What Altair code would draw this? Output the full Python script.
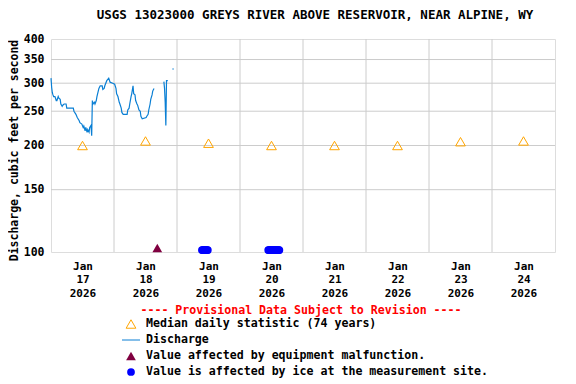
import altair as alt
import pandas as pd

TITLE = "USGS 13023000 GREYS RIVER ABOVE RESERVOIR, NEAR ALPINE, WY"
Y_TITLE = "Discharge, cubic feet per second"
HEADER = "---- Provisional Data Subject to Revision ----"
LEGEND_LABELS = [
    "Median daily statistic (74 years)",
    "Discharge",
    "Value affected by equipment malfunction.",
    "Value is affected by ice at the measurement site.",
]

# Discharge readings (cfs); segment 2 follows a data gap
q1_times = [
    "2026-01-17 00:00", "2026-01-17 00:15", "2026-01-17 00:30", "2026-01-17 00:45",
    "2026-01-17 01:00", "2026-01-17 01:30", "2026-01-17 02:00", "2026-01-17 02:15",
    "2026-01-17 02:45", "2026-01-17 03:00", "2026-01-17 03:30", "2026-01-17 03:45",
    "2026-01-17 04:15", "2026-01-17 04:30", "2026-01-17 05:00", "2026-01-17 05:45",
    "2026-01-17 06:00", "2026-01-17 08:30", "2026-01-17 08:45", "2026-01-17 09:30",
    "2026-01-17 10:00", "2026-01-17 10:45", "2026-01-17 11:00", "2026-01-17 11:45",
    "2026-01-17 12:15", "2026-01-17 12:30", "2026-01-17 13:00", "2026-01-17 13:15",
    "2026-01-17 13:45", "2026-01-17 14:00", "2026-01-17 14:30", "2026-01-17 14:45",
    "2026-01-17 15:15", "2026-01-17 15:30", "2026-01-17 15:45", "2026-01-17 16:00",
    "2026-01-17 16:30", "2026-01-17 16:45", "2026-01-17 17:15", "2026-01-17 17:30",
    "2026-01-17 18:00", "2026-01-17 18:15", "2026-01-17 18:45", "2026-01-17 19:30",
    "2026-01-17 19:45", "2026-01-17 20:15", "2026-01-17 20:30", "2026-01-17 21:15",
    "2026-01-17 22:00", "2026-01-17 22:30", "2026-01-17 23:30",
    "2026-01-18 00:15", "2026-01-18 00:45", "2026-01-18 01:00", "2026-01-18 01:30",
    "2026-01-18 02:00", "2026-01-18 02:15", "2026-01-18 02:45", "2026-01-18 03:00",
    "2026-01-18 03:30", "2026-01-18 05:00", "2026-01-18 05:15", "2026-01-18 05:45",
    "2026-01-18 06:00", "2026-01-18 06:30", "2026-01-18 06:45", "2026-01-18 07:15",
    "2026-01-18 07:30", "2026-01-18 08:00", "2026-01-18 08:15", "2026-01-18 08:45",
    "2026-01-18 09:00", "2026-01-18 09:30", "2026-01-18 10:00", "2026-01-18 10:15",
    "2026-01-18 10:45", "2026-01-18 12:15", "2026-01-18 12:30", "2026-01-18 13:00",
    "2026-01-18 13:15", "2026-01-18 13:45", "2026-01-18 14:00", "2026-01-18 14:30",
    "2026-01-18 14:45", "2026-01-18 15:15",
]
q1_values = [
    310, 292, 282, 278,
    275, 275, 268, 268,
    275, 272, 270, 262,
    258, 260, 262, 262,
    255, 255, 250, 245,
    240, 235, 232, 230,
    225, 227, 220, 225,
    218, 222, 218, 225,
    228, 213, 268, 262,
    265, 262, 268, 275,
    285, 290, 295, 295,
    288, 290, 295, 305,
    310, 302, 300,
    298, 290, 280, 275,
    265, 262, 255, 248,
    245, 245, 252, 255,
    262, 275, 280, 295,
    280, 278, 268, 262,
    260, 252, 250, 242,
    238, 240, 242, 245,
    252, 262, 270, 278,
    285, 290,
]
q2_times = [
    "2026-01-18 19:00", "2026-01-18 19:15", "2026-01-18 19:30", "2026-01-18 19:45",
    "2026-01-18 20:00", "2026-01-18 20:30",
]
q2_values = [303, 290, 265, 228, 305, 305]
q3_times = ["2026-01-18 22:30"]
q3_values = [329]

# Median daily statistic (74 years)
median_times = [
    "2026-01-17 12:00", "2026-01-18 12:00", "2026-01-19 12:00", "2026-01-20 12:00",
    "2026-01-21 12:00", "2026-01-22 12:00", "2026-01-23 12:00", "2026-01-24 12:00",
]
median_values = [200, 206, 203, 200, 200, 200, 205, 206]

# Equipment malfunction flag
equip_times = ["2026-01-18 16:30"]
equip_values = [100]

# Ice-affected flags
ice_times = [
    "2026-01-19 09:30", "2026-01-19 09:45", "2026-01-19 10:00", "2026-01-19 10:15",
    "2026-01-19 10:30", "2026-01-19 10:45", "2026-01-19 11:00", "2026-01-19 11:15",
    "2026-01-19 11:30", "2026-01-19 11:45",
    "2026-01-20 10:45", "2026-01-20 11:00", "2026-01-20 11:15", "2026-01-20 11:30",
    "2026-01-20 11:45", "2026-01-20 12:00", "2026-01-20 12:15", "2026-01-20 12:30",
    "2026-01-20 12:45", "2026-01-20 13:00", "2026-01-20 13:15", "2026-01-20 13:30",
    "2026-01-20 13:45", "2026-01-20 14:00", "2026-01-20 14:15", "2026-01-20 14:30",
    "2026-01-20 14:45", "2026-01-20 15:00",
]
ice_values = [100] * len(ice_times)

# Grid lines
grid_days = [
    "2026-01-18 00:00", "2026-01-19 00:00", "2026-01-20 00:00", "2026-01-21 00:00",
    "2026-01-22 00:00", "2026-01-23 00:00", "2026-01-24 00:00",
]
grid_values = [150, 200, 250, 300, 350]
y_ticks = [100, 150, 200, 250, 300, 350, 400]

FONT = "DejaVu Sans Mono"
LINE_BLUE = "#0a7fd4"
ORANGE = "#ffa500"
MAROON = "#800040"
ICE_BLUE = "#0000ff"
GRID = "#cccccc"

q_df = pd.DataFrame({
    "t": q1_times + q2_times,
    "q": q1_values + q2_values,
    "seg": [1] * len(q1_times) + [2] * len(q2_times),
})
q3_df = pd.DataFrame({"t": q3_times, "q": q3_values})
med_df = pd.DataFrame({"t": median_times, "q": median_values})
eq_df = pd.DataFrame({"t": equip_times, "q": equip_values})
ice_df = pd.DataFrame({"t": ice_times, "q": ice_values})
vg_df = pd.DataFrame({"t": grid_days})
hg_df = pd.DataFrame({"q": grid_values})

xs = alt.Scale(domain=[alt.DateTime(year=2026, month=1, date=17),
                       alt.DateTime(year=2026, month=1, date=25)])
ys = alt.Scale(type="log", domain=[100, 400], nice=False)

x_axis = alt.Axis(
    title=None,
    values=[alt.DateTime(year=2026, month=1, date=d, hours=12) for d in range(17, 25)],
    labelExpr="[timeFormat(datum.value, '%b'), timeFormat(datum.value, '%d'), timeFormat(datum.value, '%Y')]",
    grid=False, ticks=False, tickSize=0, domain=False,
    labelFont=FONT, labelFontSize=11, labelFontWeight="bold", labelColor="black",
    labelPadding=8, labelLineHeight=13.5, labelAngle=0, labelAlign="center",
    labelBaseline="top",
)
y_axis = alt.Axis(
    title=Y_TITLE, values=y_ticks, format="d",
    grid=False, ticks=False, tickSize=0, domain=False,
    labelFont=FONT, labelFontSize=11.5, labelFontWeight="bold", labelColor="black",
    labelPadding=7,
    titleFont=FONT, titleFontSize=11.5, titleFontWeight="bold", titleColor="black",
    titleX=-37, titleY=111, titleAngle=270, titleAlign="center", titleBaseline="middle",
)

vgrid = alt.Chart(vg_df).mark_rule(color=GRID, strokeWidth=1).encode(
    x=alt.X("t:T", scale=xs, axis=x_axis)
)
hgrid = alt.Chart(hg_df).mark_rule(color=GRID, strokeWidth=1).encode(
    y=alt.Y("q:Q", scale=ys, axis=y_axis)
)
line = alt.Chart(q_df).mark_line(color=LINE_BLUE, strokeWidth=1.2).encode(
    x=alt.X("t:T", scale=xs),
    y=alt.Y("q:Q", scale=ys),
    detail="seg:N",
)
lone = alt.Chart(q3_df).mark_square(color=LINE_BLUE, size=2, filled=True).encode(
    x=alt.X("t:T", scale=xs), y=alt.Y("q:Q", scale=ys)
)
med = alt.Chart(med_df).mark_point(
    shape="triangle-up", filled=False, color=ORANGE, size=95, strokeWidth=1, opacity=1
).encode(x=alt.X("t:T", scale=xs), y=alt.Y("q:Q", scale=ys))
eq = alt.Chart(eq_df).mark_point(
    shape="triangle-up", filled=True, color=MAROON, size=95, opacity=1, yOffset=-4
).encode(x=alt.X("t:T", scale=xs), y=alt.Y("q:Q", scale=ys))
ice = alt.Chart(ice_df).mark_point(
    shape="circle", filled=True, color=ICE_BLUE, size=60, opacity=1, yOffset=-2
).encode(x=alt.X("t:T", scale=xs), y=alt.Y("q:Q", scale=ys))

one = pd.DataFrame({"k": [0]})
text_style = dict(font=FONT, fontSize=11.6, fontWeight="bold", baseline="middle")
legend_layers = [
    alt.Chart(one).mark_text(align="center", color="#ff0000", **text_style).encode(
        x=alt.value(250), y=alt.value(272), text=alt.value(HEADER)
    )
]
rows_y = [285, 301, 317, 333]
for lbl, yy in zip(LEGEND_LABELS, rows_y):
    legend_layers.append(
        alt.Chart(one).mark_text(align="left", color="black", **text_style).encode(
            x=alt.value(95), y=alt.value(yy), text=alt.value(lbl)
        )
    )
legend_layers.append(
    alt.Chart(one).mark_point(shape="triangle-up", filled=False, color=ORANGE, size=95,
                              strokeWidth=1, opacity=1).encode(
        x=alt.value(80), y=alt.value(rows_y[0]))
)
legend_layers.append(
    alt.Chart(one).mark_rule(color=LINE_BLUE, strokeWidth=1).encode(
        x=alt.value(71), x2=alt.value(89), y=alt.value(rows_y[1]))
)
legend_layers.append(
    alt.Chart(one).mark_point(shape="triangle-up", filled=True, color=MAROON, size=95,
                              opacity=1).encode(
        x=alt.value(80), y=alt.value(rows_y[2]))
)
legend_layers.append(
    alt.Chart(one).mark_point(shape="circle", filled=True, color=ICE_BLUE, size=60,
                              opacity=1).encode(
        x=alt.value(80), y=alt.value(rows_y[3]))
)

chart = alt.layer(vgrid, hgrid, line, lone, med, eq, ice, *legend_layers).properties(
    width=504,
    height=213,
    padding={"left": 43, "top": 31, "right": 13, "bottom": 128},
    autosize=alt.AutoSizeParams(type="none"),
    title=alt.TitleParams(TITLE, font=FONT, fontSize=12.5, fontWeight="bold",
                          color="black", anchor="middle", dx=12, offset=12),
).configure_view(
    stroke="black", strokeWidth=1
).configure(background="white")

chart.save("out.html", embed_options={"renderer": "svg", "actions": False})
